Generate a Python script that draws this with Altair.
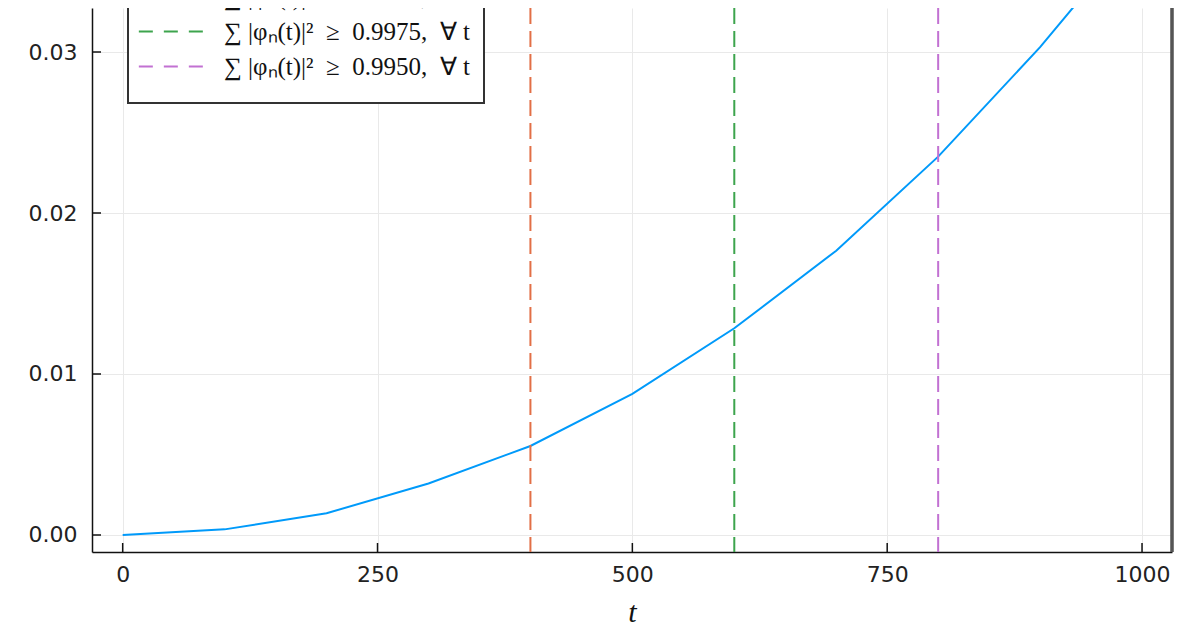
import altair as alt
import pandas as pd

# ---- data ----
t_vals = [0, 100, 200, 300, 400, 500, 600, 700, 800, 900, 1000]
p_vals = [0.0, 0.00035, 0.00135, 0.0032, 0.00553, 0.00876, 0.01284, 0.01766, 0.0235, 0.0303, 0.0379]

thr_t = [400, 600, 800]
NB = "\u00a0"
thr_labels = [
    f"∑{NB}|φₙ(t)|²{NB}{NB}≥{NB}{NB}0.9990,{NB}{NB}∀{NB}t",
    f"∑{NB}|φₙ(t)|²{NB}{NB}≥{NB}{NB}0.9975,{NB}{NB}∀{NB}t",
    f"∑{NB}|φₙ(t)|²{NB}{NB}≥{NB}{NB}0.9950,{NB}{NB}∀{NB}t",
]
thr_colors = ["#E26F46", "#3DA44D", "#C271D2"]

x_ticks = [0, 250, 500, 750, 1000]
y_ticks = [0.0, 0.01, 0.02, 0.03]

W, H = 1080, 544
x_dom = [-30.1, 1029.4]
y_dom = [-0.001056, 0.032733]

line_df = pd.DataFrame({"t": t_vals, "p": p_vals})
thr_df = pd.DataFrame({"t": thr_t, "label": thr_labels})
xt_df = pd.DataFrame({"t": x_ticks})
yt_df = pd.DataFrame({"p": y_ticks})

xscale = alt.Scale(domain=x_dom, nice=False, zero=False)
yscale = alt.Scale(domain=y_dom, nice=False, zero=False)

xaxis = alt.Axis(values=x_ticks, title="t", ticks=False, labelPadding=12,
                 labelFontSize=22, labelFont="DejaVu Sans", labelColor="#222",
                 titleFont="Liberation Serif", titleFontStyle="italic",
                 titleFontWeight="normal", titleFontSize=30, titlePadding=12,
                 titleColor="#111", domainColor="#111", domainWidth=1.5,
                 gridColor="#e9e9e9", gridWidth=1, format="d")
yaxis = alt.Axis(values=y_ticks, title=None, ticks=False, labelPadding=15,
                 labelFontSize=22, labelFont="DejaVu Sans", labelColor="#222",
                 domainColor="#111", domainWidth=1.5, gridColor="#e9e9e9",
                 gridWidth=1, format=".2f")

line = alt.Chart(line_df).mark_line(color="#009AFA", strokeWidth=2, clip=True).encode(
    x=alt.X("t:Q", scale=xscale, axis=xaxis),
    y=alt.Y("p:Q", scale=yscale, axis=yaxis),
)

rules = alt.Chart(thr_df).mark_rule(strokeWidth=2, strokeDash=[16, 7], clip=True).encode(
    x=alt.X("t:Q", scale=xscale),
    color=alt.Color(
        "label:N",
        scale=alt.Scale(domain=thr_labels, range=thr_colors),
        sort=thr_labels,
        legend=alt.Legend(
            orient="none", legendX=36, legendY=-37,
            symbolType="M-3.4,0H12.6", symbolSize=74.4, symbolStrokeWidth=2,
            symbolDash=[14, 11], labelFont="Liberation Serif",
            labelFontSize=25, labelColor="#111", labelLimit=500,
            labelOffset=58, rowPadding=9, padding=13,
            fillColor="white", strokeColor="#333",
            title=" ", titleOrient="bottom", titleFontSize=8, titlePadding=2,
        ),
    ),
)

xt = alt.Chart(xt_df).mark_rule(color="#111", strokeWidth=1.5).encode(
    x=alt.X("t:Q", scale=xscale), y=alt.value(H - 9), y2=alt.value(H)
)
yt = alt.Chart(yt_df).mark_rule(color="#111", strokeWidth=1.5).encode(
    y=alt.Y("p:Q", scale=yscale), x=alt.value(0), x2=alt.value(9)
)
right_border = alt.Chart(xt_df).mark_rule(color="#555", strokeWidth=2.5).encode(
    x=alt.value(W), y=alt.value(0), y2=alt.value(H)
)

chart = alt.layer(line, rules, xt, yt, right_border).properties(
    width=W, height=H,
    autosize=alt.AutoSizeParams(type="none"),
    padding={"left": 84, "top": 0, "right": 16, "bottom": 82},
).configure_view(stroke=None).configure_legend(strokeWidth=2)

chart.save("out.html", embed_options={"renderer": "svg", "actions": False})
